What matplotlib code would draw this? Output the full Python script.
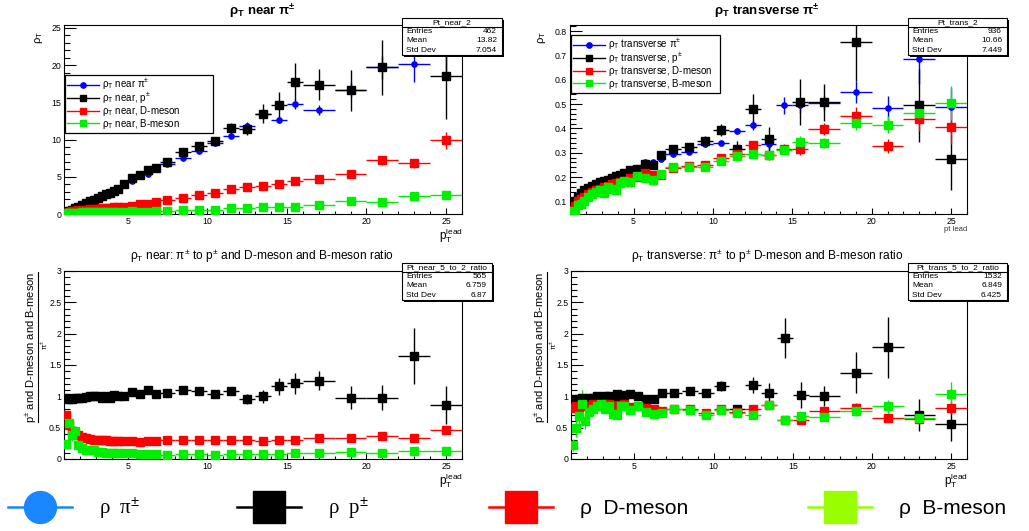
import numpy as np
import matplotlib
matplotlib.use("Agg")
import matplotlib.pyplot as plt
from matplotlib.lines import Line2D
from matplotlib.patches import Rectangle
from matplotlib.ticker import MultipleLocator, FuncFormatter

W, H = 1029, 531
plt.rcParams['font.family'] = ['Liberation Sans', 'DejaVu Sans']
plt.rcParams['mathtext.fontset'] = 'custom'
plt.rcParams['mathtext.rm'] = 'Liberation Sans'
plt.rcParams['mathtext.it'] = 'Liberation Sans:italic'
plt.rcParams['mathtext.bf'] = 'Liberation Sans:bold'

# ---------------- data ----------------
bin_edges = [1.0, 1.2, 1.4, 1.6, 1.8, 2.0, 2.25, 2.5, 2.75, 3.0, 3.25, 3.5, 3.75, 4.0, 4.25, 4.5,
             5.0, 5.5, 6.0, 6.5, 7.0, 8, 9, 10, 11, 12, 13, 14, 15, 16, 18, 20, 22, 24, 26]
nan = np.nan

# near pT
near_pi = [0.22, 0.37, 0.55, 0.75, 0.95, 1.15, 1.38, 1.6, 1.82, 2.05, 2.3, 2.55, 2.75, 3.0, 3.3,
           3.9, 4.5, 5.1, 5.4, 6.0, 6.7, 7.5, 8.4, 9.5, 10.5, 11.8, 13.5, 12.7, 14.8,
           14.0, 16.7, 19.7, 20.2, 21.6]
near_pi_err = [0.03]*15 + [0.1, 0.1, 0.12, 0.15, 0.15, 0.2, 0.2, 0.25, 0.3, 0.3, 0.5, 0.6, 0.5, 0.7,
               0.7, 1.0, 1.5, 2.4, 3.0]
near_p = [0.25, 0.4, 0.6, 0.8, 1.0, 1.2, 1.45, 1.7, 1.9, 2.15, 2.4, 2.65, 2.85, 3.1, 3.4,
          4.0, 4.9, 5.3, 5.9, 6.2, 7.0, 8.3, 9.1, 9.8, 11.5, 11.4, 13.5, 14.7, 17.8,
          17.4, 16.6, 19.7, nan, 18.6]
near_p_err = [0.05]*15 + [0.15, 0.2, 0.2, 0.25, 0.3, 0.3, 0.35, 0.4, 0.5, 0.7, 0.8, 1.3, 1.7, 2.5,
              2.1, 2.8, 3.7, nan, 5.8]
near_D = [0.2, 0.3, 0.38, 0.45, 0.5, 0.55, 0.6, 0.65, 0.7, 0.72, 0.78, 0.82, 0.85, 0.88, 0.92,
          1.0, 1.1, 1.3, 1.4, 1.6, 1.9, 2.1, 2.5, 2.8, 3.3, 3.6, 3.8, 4.0, 4.4,
          4.7, 5.4, 7.2, 6.8, 9.9]
near_D_err = [0.02]*15 + [0.05]*5 + [0.08, 0.1, 0.1, 0.12, 0.15, 0.2, 0.2, 0.25, 0.3,
              0.3, 0.35, 0.55, 0.6, 1.1]
near_B = [0.1, 0.15, 0.18, 0.2, 0.2, 0.22, 0.22, 0.24, 0.24, 0.25, 0.26, 0.26, 0.27, 0.28, 0.28,
          0.3, 0.35, 0.3, 0.3, 0.35, 0.4, 0.5, 0.5, 0.6, 0.8, 0.8, 0.9, 0.9, 1.0,
          1.2, 1.7, 1.6, 2.4, 2.5]
near_B_err = [0.01]*15 + [0.03]*5 + [0.05, 0.05, 0.05, 0.06, 0.08, 0.08, 0.1, 0.1, 0.12,
              0.12, 0.15, 0.15, 0.25, 0.3]

# transverse pT
trans_pi = [0.08, 0.1, 0.12, 0.13, 0.14, 0.15, 0.16, 0.168, 0.176, 0.182, 0.188, 0.194, 0.2, 0.205, 0.21,
            0.225, 0.235, 0.262, 0.26, 0.275, 0.295, 0.303, 0.335, 0.34, 0.39, 0.413, 0.335, 0.495, 0.495,
            0.505, 0.55, 0.485, 0.685, 0.487]
trans_pi_err = [0.004]*15 + [0.006]*5 + [0.008, 0.008, 0.01, 0.01, 0.012, 0.02, 0.025, 0.035, 0.03,
                0.03, 0.045, 0.05, 0.1, 0.08]
trans_p = [0.075, 0.1, 0.12, 0.135, 0.145, 0.155, 0.162, 0.17, 0.178, 0.185, 0.19, 0.197, 0.203, 0.21, 0.215,
           0.23, 0.235, 0.253, 0.25, 0.29, 0.315, 0.325, 0.35, 0.395, 0.317, 0.48, 0.357, nan, 0.508,
           0.507, 0.755, nan, 0.495, 0.275]
trans_p_err = [0.006]*15 + [0.008, 0.008, 0.01, 0.012, 0.012, 0.015, 0.015, 0.02, 0.025, 0.03, 0.06, 0.05, nan, 0.095,
               0.075, 0.16, nan, 0.15, 0.13]
trans_D = [0.065, 0.08, 0.1, 0.11, 0.12, 0.13, 0.14, 0.145, 0.15, 0.16, 0.165, 0.17, 0.175, 0.18, 0.185,
           0.195, 0.2, 0.215, 0.21, 0.21, 0.238, 0.245, 0.25, 0.278, 0.295, 0.332, 0.29, 0.315, 0.315,
           0.398, 0.453, 0.328, 0.44, 0.407]
trans_D_err = [0.006]*15 + [0.008]*5 + [0.008, 0.01, 0.01, 0.012, 0.012, 0.015, 0.018, 0.02, 0.025,
               0.025, 0.035, 0.03, 0.05, 0.07]
trans_B = [0.06, 0.055, 0.085, 0.09, 0.1, 0.12, 0.13, 0.14, 0.145, 0.135, 0.16, 0.15, 0.145, 0.175, 0.185,
           0.18, 0.205, 0.195, 0.19, 0.212, 0.24, 0.24, 0.24, 0.265, 0.288, 0.295, 0.29, 0.31, 0.345,
           0.34, 0.424, 0.415, 0.462, 0.503]
trans_B_err = [0.01]*15 + [0.008]*5 + [0.01, 0.01, 0.01, 0.012, 0.012, 0.015, 0.015, 0.02, 0.025,
               0.02, 0.03, 0.035, 0.04, 0.07]

# near ratios (to pi)
rnear_p = [0.97, 0.95, 0.96, 0.97, 0.98, 0.98, 0.99, 1.0, 1.0, 1.0, 0.97, 1.01, 0.98, 1.02, 1.0,
           1.0, 1.07, 1.03, 1.1, 1.03, 1.05, 1.1, 1.08, 1.03, 1.09, 0.96, 1.0, 1.16, 1.21,
           1.25, 0.98, 0.98, 1.64, 0.86]
rnear_p_err = [0.02]*15 + [0.03]*5 + [0.03, 0.04, 0.04, 0.05, 0.06, 0.08, 0.1, 0.14, 0.17,
               0.15, 0.18, 0.2, 0.45, 0.3]
rnear_D = [0.7, 0.55, 0.45, 0.4, 0.38, 0.35, 0.33, 0.32, 0.31, 0.3, 0.3, 0.3, 0.29, 0.29, 0.28,
           0.28, 0.28, 0.27, 0.28, 0.28, 0.3, 0.3, 0.3, 0.3, 0.31, 0.31, 0.28, 0.31, 0.3,
           0.34, 0.33, 0.36, 0.33, 0.47]
rnear_D_err = [0.03]*15 + [0.01]*5 + [0.01, 0.01, 0.01, 0.01, 0.015, 0.015, 0.015, 0.02, 0.02,
               0.02, 0.02, 0.03, 0.03, 0.06]
rnear_B = [0.24, 0.58, 0.38, 0.45, 0.22, 0.18, 0.15, 0.14, 0.15, 0.11, 0.11, 0.1, 0.1, 0.1, 0.09,
           0.09, 0.1, 0.08, 0.08, 0.08, 0.06, 0.08, 0.08, 0.07, 0.08, 0.08, 0.08, 0.08, 0.09,
           0.1, 0.11, 0.1, 0.12, 0.12]
rnear_B_err = [0.05, 0.12, 0.1, 0.08, 0.05, 0.03, 0.02, 0.02, 0.02, 0.01, 0.01, 0.01, 0.01, 0.01, 0.01] + \
              [0.01]*14 + [0.01, 0.015, 0.015, 0.02, 0.02]

# transverse ratios (to pi)
rtrans_p = [0.95, 0.94, 0.96, 0.97, 0.96, 0.98, 0.97, 1.0, 0.98, 1.0, 1.01, 0.99, 1.03, 1.0, 1.02,
            1.03, 1.0, 0.96, 0.96, 1.05, 1.06, 1.08, 1.05, 1.17, 0.8, 1.18, 1.06, 1.93, 1.02,
            1.0, 1.38, 1.78, 0.7, 0.56]
rtrans_p_err = [0.03]*15 + [0.03]*5 + [0.04, 0.05, 0.05, 0.08, 0.06, 0.13, 0.16, 0.32, 0.21,
                0.16, 0.32, 0.48, 0.25, 0.28]
rtrans_D = [0.82, 0.85, 0.83, 0.86, 0.84, 0.85, 0.88, 0.86, 0.84, 0.87, 0.88, 0.85, 0.86, 0.85, 0.87,
            0.83, 0.84, 0.82, 0.8, 0.77, 0.79, 0.8, 0.74, 0.8, 0.75, 0.79, 0.86, 0.62, 0.62,
            0.76, 0.81, 0.66, 0.64, 0.82]
rtrans_D_err = [0.04]*15 + [0.03]*5 + [0.03, 0.03, 0.03, 0.03, 0.03, 0.04, 0.05, 0.03, 0.04,
                0.05, 0.08, 0.07, 0.08, 0.1]
rtrans_B = [0.22, 0.5, 0.68, 0.88, 0.6, 0.75, 0.8, 0.85, 0.88, 0.8, 0.85, 0.72, 0.7, 0.84, 0.85,
            0.78, 0.84, 0.75, 0.72, 0.74, 0.8, 0.78, 0.71, 0.78, 0.73, 0.7, 0.86, 0.62, 0.69,
            0.67, 0.76, 0.84, 0.66, 1.03]
rtrans_B_err = [0.1, 0.15, 0.2, 0.22, 0.12, 0.08, 0.06, 0.05, 0.05, 0.05, 0.04, 0.04, 0.04, 0.04, 0.04] + \
               [0.03]*5 + [0.03, 0.03, 0.03, 0.03, 0.03, 0.04, 0.05, 0.03, 0.05,
                0.05, 0.08, 0.1, 0.08, 0.2]

stats = {
    'Pt_near_2': ('462', '13.82', '7.054'),
    'Pt_trans_2': ('936', '10.66', '7.449'),
    'Pt_near_5_to_2_ratio': ('565', '6.759', '6.87'),
    'Pt_trans_5_to_2_ratio': ('1532', '6.849', '6.425'),
}

C_BLUE, C_BLACK, C_RED, C_GREEN = '#0000ff', '#000000', '#ff0000', '#00ee00'

# ---------------- figure ----------------
edges = np.array(bin_edges)
xc = 0.5 * (edges[1:] + edges[:-1])
xhw = 0.5 * (edges[1:] - edges[:-1])

fig = plt.figure(figsize=(W / 100, H / 100), dpi=100)


def px_rect(l, t, r, b):
    return [l / W, 1 - b / H, (r - l) / W, (b - t) / H]


def fx(x):
    return x / W


def fy(y):
    return 1 - y / H


gfmt = FuncFormatter(lambda v, p: ('%g' % round(v, 6)))


def panel(rect, ylim, ymaj, ymin, series):
    ax = fig.add_axes(px_rect(*rect))
    for vals, errs, color, marker, ms in series:
        ax.errorbar(xc, vals, xerr=xhw, yerr=errs, fmt=marker, color=color, mfc=color, mec=color,
                    ms=ms, elinewidth=1.0, capsize=0, zorder=3)
    ax.set_xlim(1, 26)
    ax.set_ylim(*ylim)
    ax.xaxis.set_major_locator(MultipleLocator(5))
    ax.xaxis.set_minor_locator(MultipleLocator(1))
    ax.yaxis.set_major_locator(MultipleLocator(ymaj))
    ax.yaxis.set_minor_locator(MultipleLocator(ymin))
    ax.xaxis.set_major_formatter(gfmt)
    ax.yaxis.set_major_formatter(gfmt)
    ax.tick_params(which='both', direction='in', top=False, right=False, labelsize=6.3, pad=2,
                   width=0.8, colors='black')
    ax.tick_params(axis='y', which='major', length=8.6)
    ax.tick_params(axis='y', which='minor', length=4.3)
    ax.tick_params(axis='x', which='major', length=4.2)
    ax.tick_params(axis='x', which='minor', length=2.1)
    for s in ax.spines.values():
        s.set_linewidth(0.8)
    return ax


def statbox(l, t, r, b, sep, name, vals):
    sh = Rectangle((fx(l + 2), fy(b + 2)), (r - l) / W, (b - t) / H, transform=fig.transFigure,
                   facecolor='black', edgecolor='none', zorder=20)
    bx = Rectangle((fx(l), fy(b)), (r - l) / W, (b - t) / H, transform=fig.transFigure,
                   facecolor='white', edgecolor='black', lw=0.8, zorder=21)
    fig.add_artist(sh)
    fig.add_artist(bx)
    fig.add_artist(Line2D([fx(l), fx(r)], [fy(sep), fy(sep)], transform=fig.transFigure,
                          color='black', lw=0.8, zorder=22))
    fig.text(fx((l + r) / 2), fy((t + sep) / 2), name, ha='center', va='center', fontsize=6, zorder=23)
    rowh = (b - sep) / 3.0
    for i, (lab, v) in enumerate(zip(['Entries', 'Mean', 'Std Dev'], vals)):
        yy = sep + rowh * (i + 0.5)
        fig.text(fx(l + 4), fy(yy), lab, ha='left', va='center', fontsize=6, zorder=23)
        fig.text(fx(r - 5), fy(yy), v, ha='right', va='center', fontsize=6, zorder=23)


def inlegend(ax, labels, anchor):
    cols = [C_BLUE, C_BLACK, C_RED, C_GREEN]
    marks = ['o', 's', 's', 's']
    mss = [3.8, 5.0, 5.0, 5.0]
    hs = [Line2D([], [], color=c, marker=m, ms=s, lw=1.0) for c, m, s in zip(cols, marks, mss)]
    leg = ax.legend(hs, labels, loc='upper left', bbox_to_anchor=anchor, mode='expand', fontsize=7,
                    frameon=True, fancybox=False, edgecolor='black', framealpha=1, borderpad=0.2,
                    handlelength=3.3, handletextpad=0.3, labelspacing=-0.15, borderaxespad=0)
    leg.get_frame().set_linewidth(0.9)
    leg.set_zorder(10)


ms_sq, ms_ci = 5.2, 3.8

# Top-left: near
ax1 = panel((64, 25, 462, 214), (0, 25.4), 5, 1,
            [(near_pi, near_pi_err, C_BLUE, 'o', ms_ci),
             (near_p, near_p_err, C_BLACK, 's', ms_sq),
             (near_D, near_D_err, C_RED, 's', ms_sq),
             (near_B, near_B_err, C_GREEN, 's', ms_sq)])
inlegend(ax1, [r'ρ$_{\mathrm{T}}$ near π$^{\pm}$', r'ρ$_{\mathrm{T}}$ near, p$^{\pm}$',
               r'ρ$_{\mathrm{T}}$ near, D-meson', r'ρ$_{\mathrm{T}}$ near, B-meson'],
         ((65 - 64) / 398, 1 - (75 - 25) / 189 - 0.3, 148 / 398, 0.3))

# Top-right: transverse
ax2 = panel((570, 25, 967, 214), (0.048, 0.826), 0.1, 0.02,
            [(trans_pi, trans_pi_err, C_BLUE, 'o', ms_ci),
             (trans_p, trans_p_err, C_BLACK, 's', ms_sq),
             (trans_D, trans_D_err, C_RED, 's', ms_sq),
             (trans_B, trans_B_err, C_GREEN, 's', ms_sq)])
inlegend(ax2, [r'ρ$_{\mathrm{T}}$ transverse π$^{\pm}$', r'ρ$_{\mathrm{T}}$ transverse, p$^{\pm}$',
               r'ρ$_{\mathrm{T}}$ transverse, D-meson', r'ρ$_{\mathrm{T}}$ transverse, B-meson'],
         ((571 - 570) / 397, 1 - (35 - 25) / 189 - 0.3, 149 / 397, 0.3))

# Bottom-left: near ratio
ax3 = panel((64, 271, 462, 459), (0, 3), 0.5, 0.1,
            [(rnear_p, rnear_p_err, C_BLACK, 's', ms_sq),
             (rnear_D, rnear_D_err, C_RED, 's', ms_sq),
             (rnear_B, rnear_B_err, C_GREEN, 's', ms_sq)])

# Bottom-right: transverse ratio
ax4 = panel((571, 271, 967, 459), (0, 3), 0.5, 0.1,
            [(rtrans_p, rtrans_p_err, C_BLACK, 's', ms_sq),
             (rtrans_D, rtrans_D_err, C_RED, 's', ms_sq),
             (rtrans_B, rtrans_B_err, C_GREEN, 's', ms_sq)])

# titles
fig.text(fx(262), fy(12), r'ρ$_{\mathbf{T}}$ near π$^{\mathbf{\pm}}$', ha='center', va='center',
         fontsize=9.5, fontweight='bold')
fig.text(fx(767), fy(12), r'ρ$_{\mathbf{T}}$ transverse π$^{\mathbf{\pm}}$', ha='center', va='center',
         fontsize=9.5, fontweight='bold')
fig.text(fx(262), fy(256), r'ρ$_{\mathrm{T}}$ near: π$^{\pm}$ to p$^{\pm}$ and D-meson and B-meson ratio',
         ha='center', va='center', fontsize=8.6)
fig.text(fx(767), fy(256), r'ρ$_{\mathrm{T}}$ transverse: π$^{\pm}$ to p$^{\pm}$ D-meson and B-meson ratio',
         ha='center', va='center', fontsize=8.6)

# axis titles
fig.text(fx(39), fy(31), r'ρ$_{\mathrm{T}}$', rotation=90, ha='center', va='top', fontsize=8)
fig.text(fx(542), fy(31), r'ρ$_{\mathrm{T}}$', rotation=90, ha='center', va='top', fontsize=8)
fig.text(fx(463), fy(226.5), r'p$_{\mathrm{T}}^{\mathrm{lead}}$', ha='right', va='top', fontsize=8.5)
fig.text(fx(967), fy(229), 'pt lead', ha='right', va='center', fontsize=5.5, color='#333333')
fig.text(fx(463), fy(471), r'p$_{\mathrm{T}}^{\mathrm{lead}}$', ha='right', va='top', fontsize=8.5)
fig.text(fx(968), fy(471), r'p$_{\mathrm{T}}^{\mathrm{lead}}$', ha='right', va='top', fontsize=8.5)

for xl, xline, xden in [(31, 37.7, 44.5), (540, 546.7, 553.5)]:
    fig.text(fx(xl), fy(347), r'p$^{\pm}$ and D-meson and B-meson', rotation=90, ha='center',
             va='center', fontsize=8)
    fig.add_artist(Line2D([fx(xline), fx(xline)], [fy(272), fy(422)], transform=fig.transFigure,
                          color='black', lw=0.8))
    fig.text(fx(xden), fy(345), r'π$^{\pm}$', rotation=90, ha='center', va='center', fontsize=5.5)

# stat boxes
statbox(402, 18, 502, 55, 26.7, 'Pt_near_2', stats['Pt_near_2'])
statbox(908, 18, 1007, 55, 26.7, 'Pt_trans_2', stats['Pt_trans_2'])
statbox(402, 263, 492, 300, 271.7, 'Pt_near_5_to_2_ratio', stats['Pt_near_5_to_2_ratio'])
statbox(908, 263, 1007, 300, 271.7, 'Pt_trans_5_to_2_ratio', stats['Pt_trans_5_to_2_ratio'])

# bottom big legend
big_items = [
    ('#1a86ff', 'o', 'ρ  π$^{\\pm}$', 8, 'Liberation Serif'),
    ('#000000', 's', 'ρ  p$^{\\pm}$', 237, 'Liberation Serif'),
    ('#ff0000', 's', 'ρ  D-meson', 489, 'Liberation Sans'),
    ('#99ff00', 's', 'ρ  B-meson', 808, 'Liberation Sans'),
]
for col, mk, lab, x0, fam in big_items:
    h = Line2D([], [], color=col, marker=mk, ms=23 if mk == 'o' else 23.5, lw=1.8)
    lg = fig.legend([h], [lab], loc='center left', bbox_to_anchor=(fx(x0), fy(509)), frameon=False,
                    handlelength=3.07, handletextpad=1.3, borderpad=0, borderaxespad=0,
                    prop={'family': fam, 'size': 15})

fig.savefig('out.png', dpi=100)
